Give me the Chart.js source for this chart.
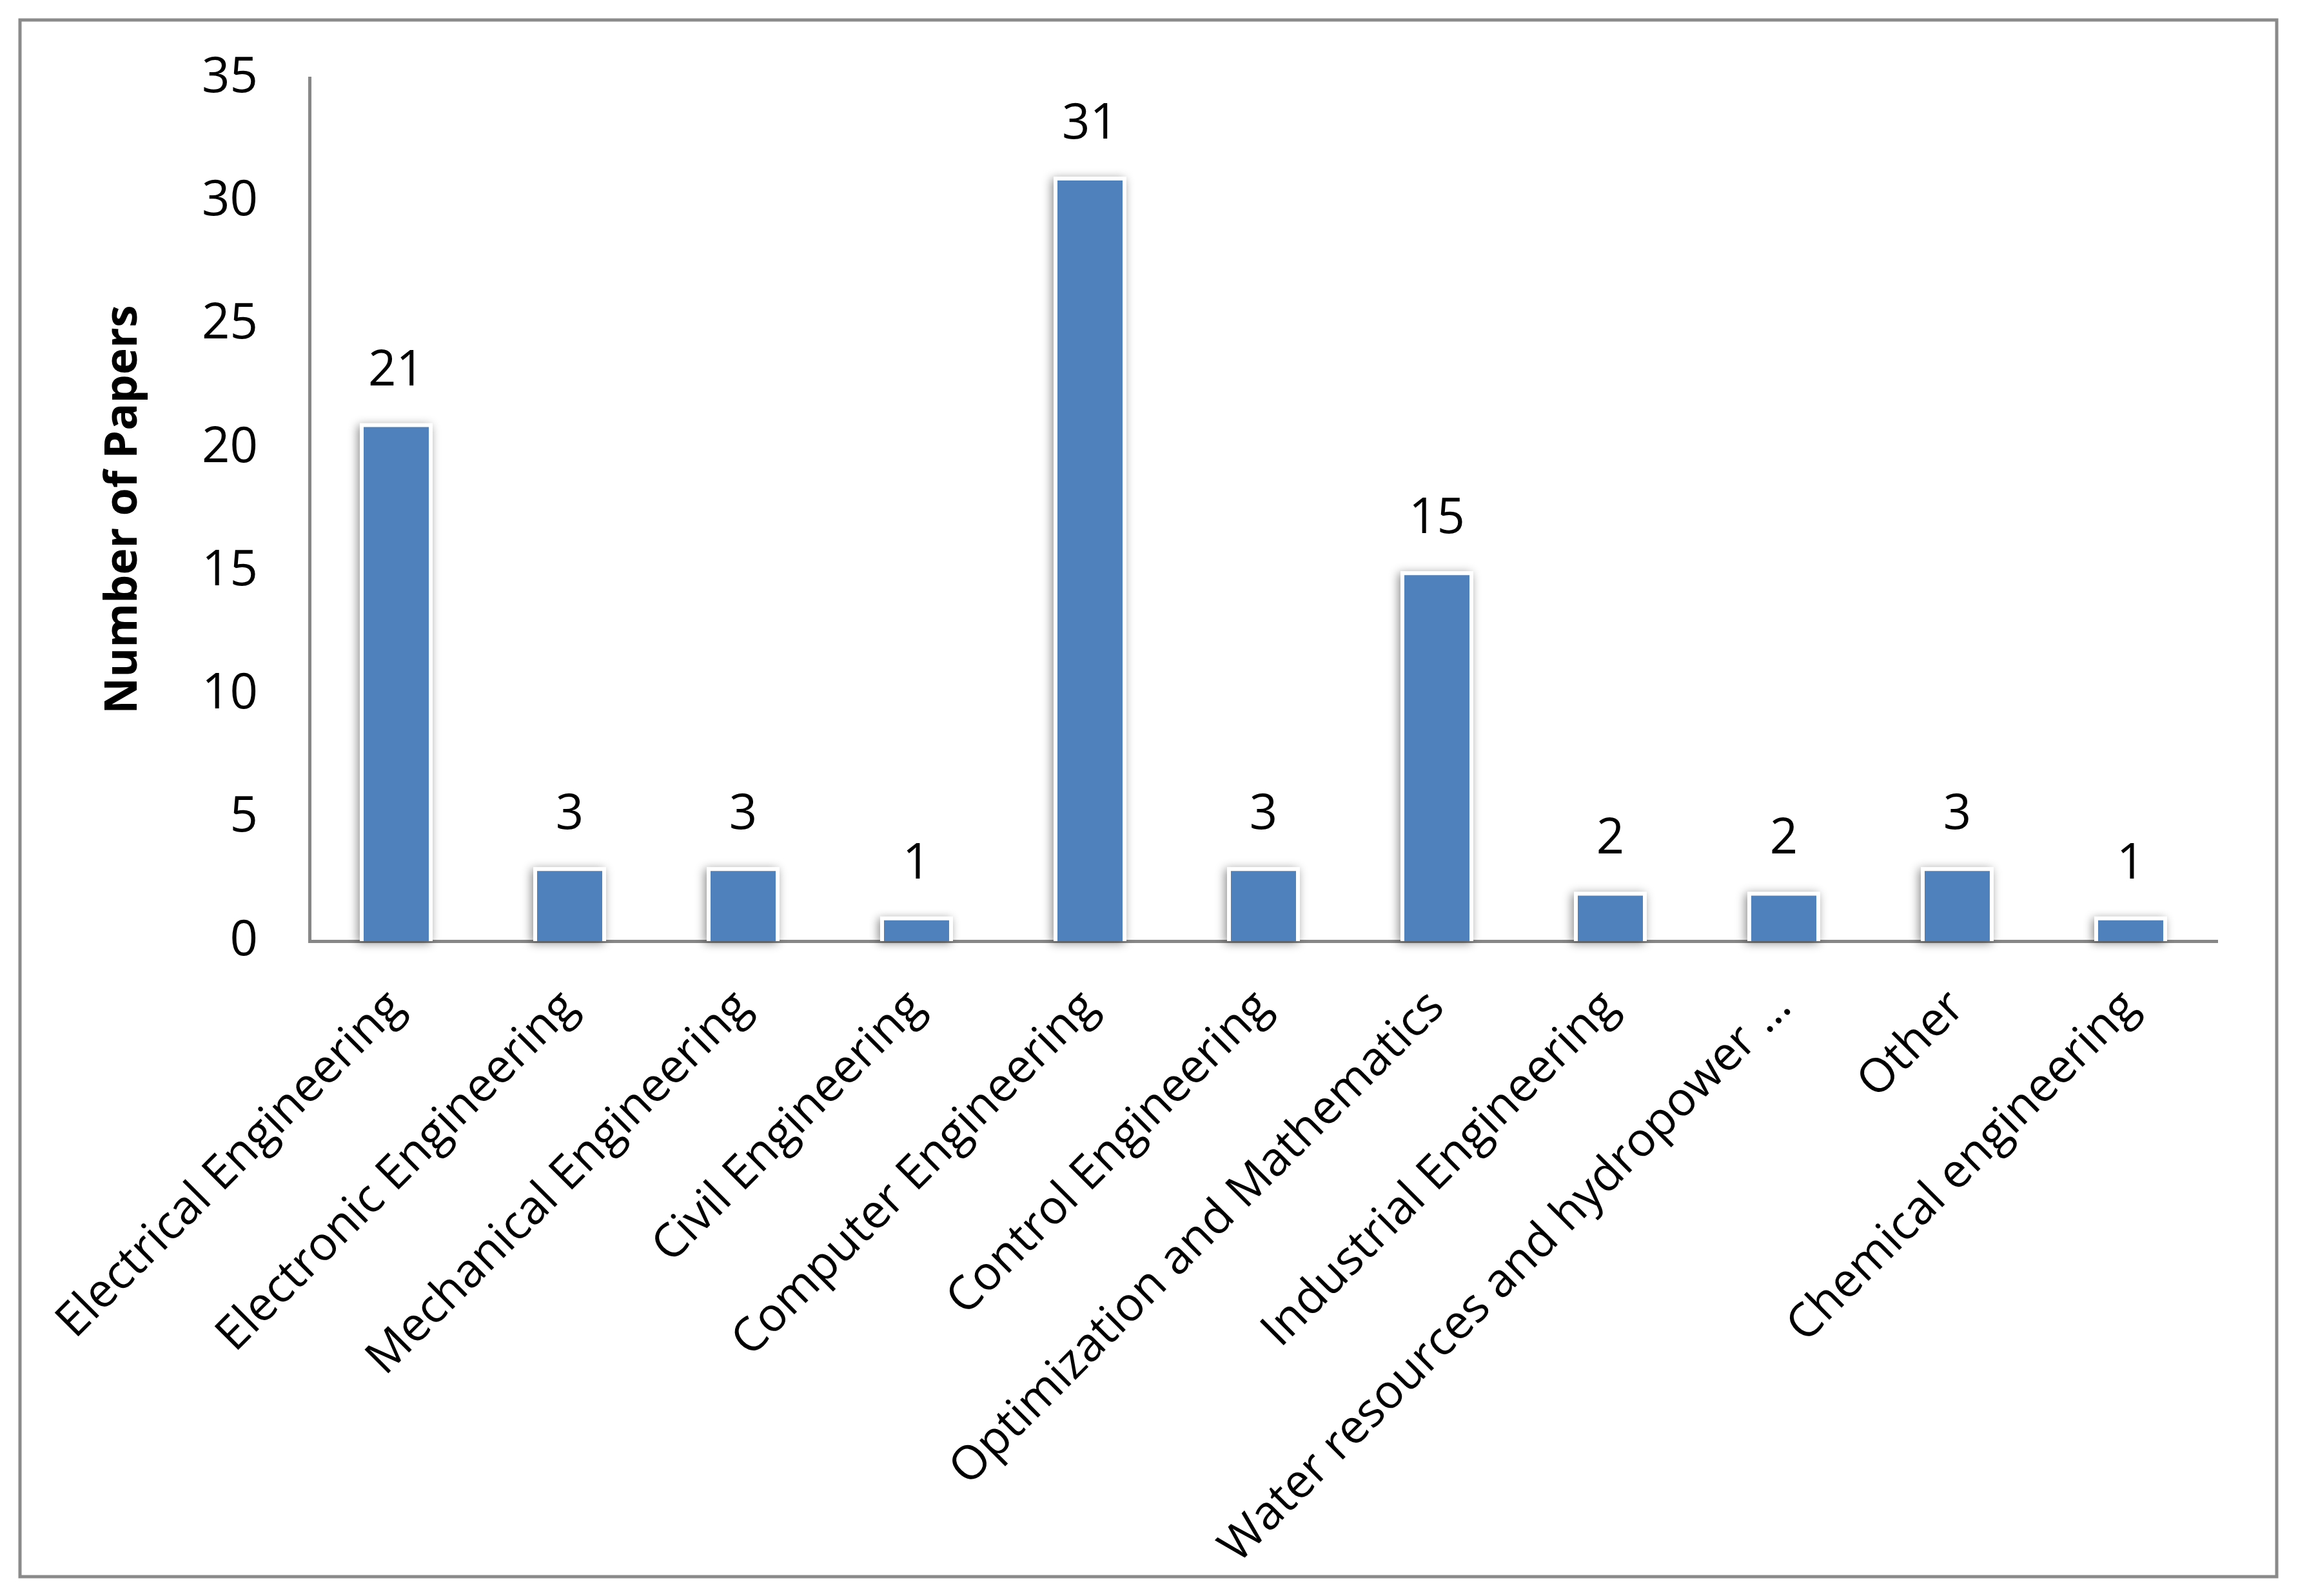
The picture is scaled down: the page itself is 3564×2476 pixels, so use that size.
<!DOCTYPE html>
<html>
<head>
<meta charset="utf-8">
<script src="https://cdn.jsdelivr.net/npm/chart.js@4.4.1/dist/chart.umd.min.js"></script>
<style>
html, body { margin: 0; padding: 0; background: #ffffff; }
#c { display: block; }
</style>
</head>
<body>
<canvas id="c" width="3564" height="2476" style="width:3564px;height:2476px"></canvas>
<script>
// ---- data ----
const categories = [
  "Electrical Engineering",
  "Electronic Engineering",
  "Mechanical Engineering",
  "Civil Engineering",
  "Computer Engineering",
  "Control Engineering",
  "Optimization and Mathematics",
  "Industrial Engineering",
  "Water resources and hydropower …",
  "Other",
  "Chemical engineering"
];
const paperCounts = [21, 3, 3, 1, 31, 3, 15, 2, 2, 3, 1];
const yTickValues = [0, 5, 10, 15, 20, 25, 30, 35];
const yAxisTitle = "Number of Papers";

// ---- style ----
const FONT = '"Open Sans", "DejaVu Sans", sans-serif';
const mctx = document.createElement('canvas').getContext('2d');
mctx.font = '100px ' + FONT;
const refW = mctx.measureText('Electrical Engineering').width;
const FS = Math.round(100 * 755 / refW);
const LABEL_FS = Math.round(FS * 0.955);
const TITLE_FS = Math.round(FS * 0.92);

const W = 3564, H = 2476;
const AXIS_LEFT = 480, AXIS_RIGHT = 3439, AXIS_TOP = 121, AXIS_BOTTOM = 1460;
const AXIS_COLOR = '#878787';
const BAR_COLOR = '#4F81BD';

const framePlugin = {
  id: 'frame',
  beforeDraw(chart) {
    const ctx = chart.ctx;
    ctx.save();
    ctx.fillStyle = '#ffffff';
    ctx.fillRect(0, 0, W, H);
    ctx.strokeStyle = '#8a8a8a';
    ctx.lineWidth = 5;
    ctx.strokeRect(31, 31, 3500, 2415);
    ctx.restore();
  }
};

const shadowPlugin = {
  id: 'barShadow',
  beforeDatasetsDraw(chart) {
    const ctx = chart.ctx;
    const meta = chart.getDatasetMeta(0);
    ctx.save();
    ctx.shadowColor = 'rgba(0,0,0,0.45)';
    ctx.shadowBlur = 14;
    ctx.shadowOffsetX = -3;
    ctx.shadowOffsetY = 3;
    ctx.fillStyle = '#ffffff';
    meta.data.forEach(bar => {
      const p = bar.getProps(['x', 'y', 'base', 'width'], true);
      ctx.fillRect(p.x - p.width / 2, p.y, p.width, p.base - p.y);
    });
    ctx.restore();
  }
};

const labelPlugin = {
  id: 'valueLabels',
  afterDatasetsDraw(chart) {
    const ctx = chart.ctx;
    const meta = chart.getDatasetMeta(0);
    const data = chart.data.datasets[0].data;
    ctx.save();
    ctx.font = FS + 'px ' + FONT;
    ctx.fillStyle = '#000000';
    ctx.textAlign = 'center';
    ctx.textBaseline = 'alphabetic';
    meta.data.forEach((bar, i) => {
      const p = bar.getProps(['x', 'y'], true);
      ctx.fillText(String(data[i]), p.x, p.y - 59);
    });
    ctx.restore();
  }
};

Chart.defaults.font.family = FONT;
Chart.defaults.font.size = FS;
Chart.defaults.color = '#000000';

new Chart(document.getElementById('c'), {
  type: 'bar',
  data: {
    labels: categories,
    datasets: [{
      data: paperCounts,
      backgroundColor: BAR_COLOR,
      borderColor: '#ffffff',
      borderWidth: 6,
      borderSkipped: 'start',
      barPercentage: 0.42,
      categoryPercentage: 1.0
    }]
  },
  options: {
    responsive: false,
    devicePixelRatio: 1,
    animation: false,
    events: [],
    layout: { padding: { top: AXIS_TOP, right: W - AXIS_RIGHT, bottom: 0, left: 0 } },
    plugins: {
      legend: { display: false },
      tooltip: { enabled: false },
      title: { display: false }
    },
    scales: {
      x: {
        type: 'category',
        offset: true,
        grid: { display: false, drawTicks: false },
        border: { display: true, color: AXIS_COLOR, width: 5 },
        ticks: {
          autoSkip: false,
          maxRotation: 45,
          minRotation: 45,
          padding: 60,
          color: '#000000',
          font: { family: FONT, size: LABEL_FS }
        },
        afterFit(s) {
          s.height = H - AXIS_BOTTOM;
          s.paddingLeft = 0; s.paddingRight = 0;
        }
      },
      y: {
        min: 0,
        max: 35,
        grid: { display: false, drawTicks: false },
        border: { display: true, color: AXIS_COLOR, width: 5 },
        ticks: {
          padding: 80,
          color: '#000000',
          font: { family: FONT, size: FS }
        },
        afterBuildTicks(s) {
          s.ticks = yTickValues.map(v => ({ value: v }));
        },
        title: {
          display: true,
          text: yAxisTitle,
          color: '#000000',
          font: { family: FONT, size: TITLE_FS, weight: 'bold', lineHeight: 1 },
          padding: { top: 192 - TITLE_FS / 2, bottom: 0 }
        },
        afterFit(s) {
          s.width = AXIS_LEFT;
          s.paddingTop = 0; s.paddingBottom = 0;
        }
      }
    }
  },
  plugins: [framePlugin, shadowPlugin, labelPlugin]
});
</script>
</body>
</html>
